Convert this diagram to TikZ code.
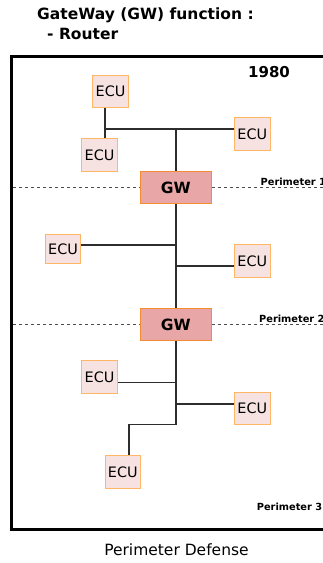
\documentclass[tikz,border=0pt]{standalone}
\usepackage{fontspec}
\setmainfont{DejaVu Sans}
\usepackage{tikz}
\usetikzlibrary{positioning}

\definecolor{ecufill}{RGB}{247,226,226}
\definecolor{eculine}{RGB}{255,182,102}
\definecolor{gwfill}{RGB}{232,166,166}
\definecolor{gwline}{RGB}{245,140,50}
\definecolor{wiregray}{RGB}{45,45,45}

\tikzset{
	ecu/.style={draw=eculine, fill=ecufill, line width=0.9pt, inner sep=0pt,
		minimum width=35.5, minimum height=32.5,
		font=\fontsize{14.4}{16}\selectfont},
	gw/.style={draw=gwline, fill=gwfill, line width=0.9pt, inner sep=0pt,
		minimum width=71.5, minimum height=32,
		font=\fontsize{15.5}{17}\selectfont\bfseries},
	wire/.style={draw=wiregray, line width=1.5pt},
	perim/.style={draw=black!70, line width=1pt, dash pattern=on 3pt off 3pt},
	perimtext/.style={anchor=west, inner sep=0pt, font=\fontsize{9.8}{11}\selectfont\bfseries},
	headtext/.style={anchor=west, inner sep=0pt, font=\fontsize{15.5}{17}\selectfont\bfseries},
}

\begin{document}
\begin{tikzpicture}[x=1pt, y=-1pt]
	
	\useasboundingbox (0,0) rectangle (323,563);
	\clip (0,0) rectangle (323,563);
	
	% heading
	\node[headtext] (headA) at (37,15) {GateWay (GW) function :};
	\node[headtext] (headB) at (47,34) {- Router};
	
	% outer frame (right side runs off the page)
	\draw[line width=3pt] (340,56) -- (11,56) -- (11,529) -- (340,529);
	\node[inner sep=0pt, font=\fontsize{15}{17}\selectfont\bfseries] (year) at (269,72) {1980};
	
	% gateways
	\node[gw] (gwA) at (175.8,187.5) {GW};
	\node[gw] (gwB) at (175.8,324.5) {GW};
	
	% ECUs, top to bottom
	\node[ecu] (ecuA) at (110.5,91.5) {ECU};
	\node[ecu] (ecuB) at (99.5,155) {ECU};
	\node[ecu] (ecuC) at (252.3,134) {ECU};
	\node[ecu, minimum height=29] (ecuD) at (63,248.8) {ECU};
	\node[ecu] (ecuE) at (252.3,261) {ECU};
	\node[ecu] (ecuF) at (99.5,377) {ECU};
	\node[ecu] (ecuG) at (252.3,408.5) {ECU};
	\node[ecu] (ecuH) at (122.8,472) {ECU};
	
	% taps on the bus
	\coordinate (tapA) at (105,129);
	\coordinate (tapD) at (175.7,245);
	\coordinate (tapE) at (175.7,266);
	\coordinate (tapF) at (175.7,382.3);
	\coordinate (tapG) at (175.7,404);
	\coordinate (bend) at (129,424.5);
	
	% perimeter 1
	\draw[wire] (ecuA.south -| tapA) -- (ecuB.north -| tapA);
	\draw[wire] (tapA) -- (ecuC.west |- tapA);
	\draw[wire] (gwA.north |- tapA) -- (gwA.north);
	
	% perimeter 2
	\draw[wire] (gwA.south) -- (gwB.north);
	\draw[wire] (ecuD.east |- tapD) -- (tapD);
	\draw[wire] (tapE) -- (ecuE.west |- tapE);
	
	% perimeter 3
	\draw[wire] (gwB.south) |- (bend) -- (ecuH.north -| bend);
	\draw[wire] (ecuF.east |- tapF) -- (tapF);
	\draw[wire] (tapG) -- (ecuG.west |- tapG);
	
	% perimeter borders
	\coordinate (left) at (13,0);
	\coordinate (right) at (340,0);
	\draw[perim] (left |- gwA.west) -- (gwA.west);
	\draw[perim] (gwA.east) -- (right |- gwA.east);
	\draw[perim] (left |- gwB.west) -- (gwB.west);
	\draw[perim] (gwB.east) -- (right |- gwB.east);
	
	\node[perimtext] (perimA) at (260.5,181.5) {Perimeter 1};
	\node[perimtext] (perimB) at (259,318.5) {Perimeter 2};
	\node[perimtext] (perimC) at (256.7,507) {Perimeter 3};
	
	% caption
	\node[inner sep=0pt, font=\fontsize{15.5}{17}\selectfont] (caption) at (176.5,550) {Perimeter Defense};
	
\end{tikzpicture}
\end{document}
